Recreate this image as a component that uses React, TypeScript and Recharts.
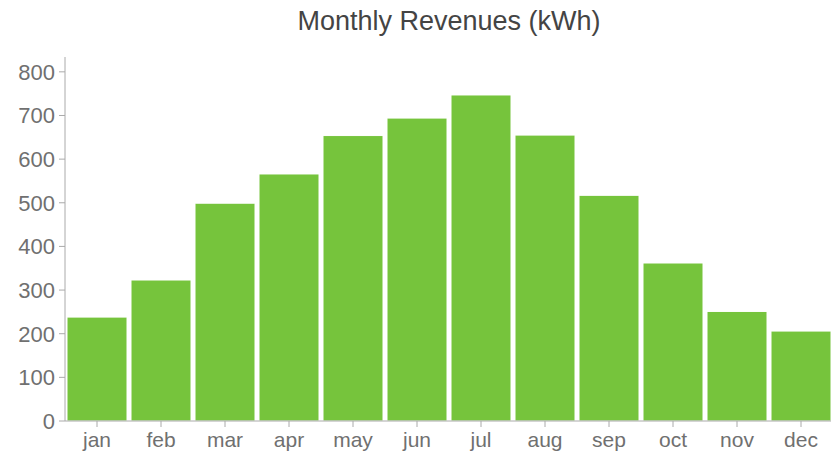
import React from "react";
import { BarChart, Bar, XAxis, YAxis } from "recharts";

const months = ["jan", "feb", "mar", "apr", "may", "jun", "jul", "aug", "sep", "oct", "nov", "dec"];
const revenues = [238, 323, 499, 566, 654, 694, 747, 655, 517, 362, 251, 206];
const yTicks = [0, 100, 200, 300, 400, 500, 600, 700, 800];
const title = "Monthly Revenues (kWh)";

const data = months.map((m, i) => ({ month: m, value: revenues[i] }));

const FONT = '"Liberation Sans", Arial, Helvetica, sans-serif';

export default function App() {
  return (
    <div
      style={{
        position: "absolute",
        left: 0,
        top: 0,
        width: 831,
        height: 456,
        overflow: "hidden",
        background: "#fff",
        fontFamily: FONT,
      }}
    >
      <div
        style={{
          position: "absolute",
          left: 65,
          width: 768,
          top: 5,
          textAlign: "center",
          fontSize: 27,
          color: "#444",
          lineHeight: "32px",
        }}
      >
        {title}
      </div>
      <BarChart
        width={840}
        height={456}
        data={data}
        margin={{ top: 57, right: 7, bottom: 5, left: 5 }}
        barCategoryGap={2}
      >
        <XAxis
          dataKey="month"
          stroke="#aaa"
          tickLine={{ stroke: "#aaa" }}
          tick={{ fill: "#707070", fontSize: 21, fontFamily: FONT }}
          tickMargin={5}
          height={30}
        />
        <YAxis
          domain={[0, 834]}
          ticks={yTicks}
          stroke="#aaa"
          tickLine={{ stroke: "#aaa" }}
          tick={{ fill: "#707070", fontSize: 22, fontFamily: FONT }}
          tickMargin={4}
          width={60}
          interval={0}
        />
        <Bar dataKey="value" fill="#76c43c" stroke="#ffffff" strokeWidth={1} isAnimationActive={false} />
      </BarChart>
    </div>
  );
}
